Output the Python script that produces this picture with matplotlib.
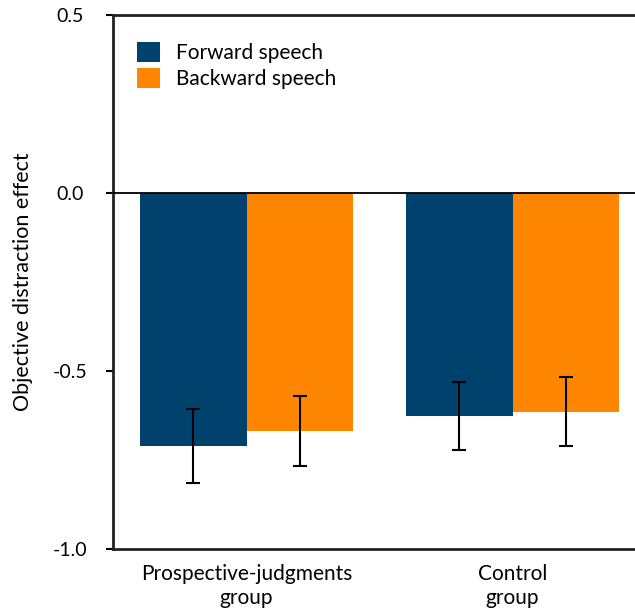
import matplotlib
matplotlib.use("Agg")
import matplotlib.pyplot as plt
import numpy as np
from matplotlib.patches import Patch

plt.rcParams['font.family'] = ['Lato', 'DejaVu Sans']

groups = ["Prospective-judgments\ngroup", "Control\ngroup"]
series = ["Forward speech", "Backward speech"]
forward = [-0.711, -0.626]
backward = [-0.669, -0.615]
forward_err = [0.103, 0.095]
backward_err = [0.098, 0.097]
colors = ["#00426e", "#ff8600"]
yticks = [-1.0, -0.5, 0.0, 0.5]

fig = plt.figure(figsize=(6.35, 6.11), dpi=100)
ax = fig.add_axes([0.178, 0.1015, 0.822, 0.874])

x = np.arange(len(groups))
w = 0.4
ax.bar(x - w/2, forward, w, color=colors[0], label=series[0], zorder=2)
ax.bar(x + w/2, backward, w, color=colors[1], label=series[1], zorder=2)
ax.errorbar(x - w/2, forward, yerr=forward_err, fmt='none', ecolor='black',
            elinewidth=1.5, capsize=5, capthick=1.5, zorder=3)
ax.errorbar(x + w/2, backward, yerr=backward_err, fmt='none', ecolor='black',
            elinewidth=1.5, capsize=5, capthick=1.5, zorder=3)

ax.axhline(0, color='black', lw=1.3, zorder=4)
ax.set_xlim(-0.502, 1.46)
ax.set_ylim(-1.0, 0.5)
ax.set_yticks(yticks)
ax.set_yticklabels([f"{v:.1f}" for v in yticks], fontsize=14)
ax.set_xticks(x)
ax.set_xticklabels(groups, fontsize=15, linespacing=1.25)
ax.tick_params(axis='x', length=0, pad=11)
ax.tick_params(axis='y', length=5, width=1.5, pad=26, direction='out')
for lab in ax.get_yticklabels():
    lab.set_horizontalalignment('center')
ax.spines['right'].set_visible(False)
for s in ['left', 'bottom', 'top']:
    ax.spines[s].set_linewidth(2)
    ax.spines[s].set_color('#222222')

ax.set_ylabel("Objective distraction effect", fontsize=15.5, labelpad=14)

handles = [Patch(facecolor=colors[0]), Patch(facecolor=colors[1])]
ax.legend(handles, series, loc='upper left', bbox_to_anchor=(0.01, 0.985),
          frameon=False, fontsize=15, handlelength=1.1, handleheight=1.1,
          handletextpad=0.75, labelspacing=0.25)

fig.savefig("out.png", dpi=100)
